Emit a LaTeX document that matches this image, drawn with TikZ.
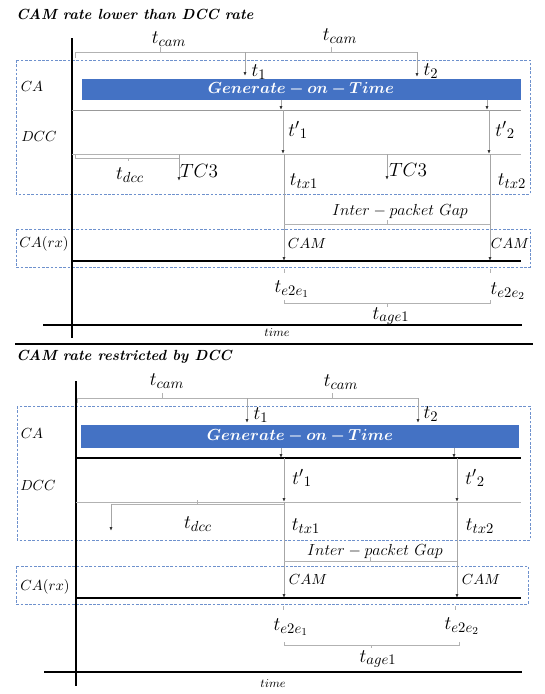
\documentclass[tikz,border=0pt]{standalone}
\usepackage{amsmath}
\usepackage{amssymb}
\usepackage{bm}
\usetikzlibrary{arrows.meta}

\DeclareMathSizes{14}{14}{10.5}{8}
\DeclareMathSizes{12.5}{12.5}{9.5}{7.5}

\definecolor{barblue}{RGB}{68,114,196}
\definecolor{laneblue}{RGB}{110,145,205}

\tikzset{
  axisline/.style={line width=1.3pt},
  lanebox/.style={draw=laneblue, line width=0.6pt, dash pattern=on 2pt off 1.2pt},
  tarrow/.style={draw=gray!70, line width=0.6pt, -{Latex[length=3pt,width=2.4pt,color=black!80]}},
  bracket/.style={draw=gray!60, line width=0.6pt},
  tlbl/.style={inner sep=0pt, font=\fontsize{14}{16}\selectfont},
  lanelbl/.style={inner sep=0pt, font=\fontsize{11}{13}\selectfont},
  notelbl/.style={inner sep=0pt, font=\fontsize{12.5}{14}\selectfont},
  timelbl/.style={inner sep=0pt, font=\fontsize{9.5}{11}\selectfont},
  titlelbl/.style={inner sep=0pt, anchor=west, font=\fontsize{11}{13}\selectfont\bfseries\itshape},
  genlbl/.style={inner sep=0pt, text=white, font=\fontsize{13}{15}\selectfont},
}

\begin{document}
\begin{tikzpicture}[x=0.75pt, y=-0.75pt]
  \useasboundingbox (0,0) rectangle (544,694);

  % upper panel
  \node[titlelbl] (title1) at (16,14) {CAM rate lower than DCC rate};
  \draw[lanebox] (16,60) rectangle (530,194);
  \draw[lanebox] (16,229) rectangle (530,267);
  \fill[barblue] (82,79) rectangle (521,100);
  \node[genlbl] (gen1) at (301,89.5) {$\bm{Generate-on-Time}$};
  \draw[axisline] (72,38) -- (72,338);
  \draw[axisline] (43,325) -- (522,325);
  \draw[axisline] (15,344) -- (533,344);
  \draw[gray!80, line width=0.7pt] (72,110) -- (521,110);
  \draw[gray!60, line width=0.7pt] (72,154) -- (521,154);
  \draw[line width=0.8pt] (72,261) -- (521,261);
  \node[lanelbl] (ca1) at (32,87) {$CA$};
  \node[lanelbl] (dcc1) at (39,137) {$DCC$};
  \node[lanelbl] (rx1) at (44,244) {$CA(rx)$};
  \node[timelbl] (time1) at (277,333) {$time$};

  \draw[bracket] (75,58) -- (75,52) -- (417,52);
  \draw[bracket] (160,52) -- (160,47);
  \draw[bracket] (331,52) -- (331,47);
  \draw[tarrow] (245,52) -- (245,76);
  \draw[tarrow] (417,52) -- (417,77);
  \node[tlbl] (cam1a) at (169,39) {$t_{cam}$};
  \node[tlbl] (cam1b) at (340,36) {$t_{cam}$};
  \node[tlbl] (t1a) at (259,72) {$t_1$};
  \node[tlbl] (t2a) at (431,71) {$t_2$};

  \draw[tarrow] (281,100) -- (281,110);
  \draw[tarrow] (487,100) -- (487,110);
  \draw[tarrow] (283,110) -- (283,154);
  \draw[tarrow] (489,110) -- (489,154);
  \node[tlbl] (tp1a) at (298,130) {${t'}_1$};
  \node[tlbl] (tp2a) at (505,130) {${t'}_2$};

  \draw[bracket] (75,154) -- (75,158) -- (179,158);
  \draw[bracket] (128,158) -- (128,161);
  \draw[tarrow] (179,154) -- (179,181);
  \draw[tarrow] (387,154) -- (387,180);
  \node[tlbl] (dcct1) at (130,175) {$t_{dcc}$};
  \node[tlbl] (tc3a) at (199,171) {$TC3$};
  \node[tlbl] (tc3b) at (408,170) {$TC3$};

  \draw[tarrow] (284,154) -- (284,261);
  \draw[tarrow] (490,154) -- (490,261);
  \node[tlbl] (tx1a) at (304,181) {$t_{tx1}$};
  \node[tlbl] (tx2a) at (512,181) {$t_{tx2}$};
  \draw[bracket] (284,224) -- (490,224);
  \draw[bracket] (387,224) -- (387,220);
  \node[notelbl] (gap1) at (400,211) {$Inter-packet\ Gap$};
  \node[lanelbl] (cam1c) at (307,244) {$CAM$};
  \node[lanelbl] (cam1d) at (510,244) {$CAM$};

  \draw[bracket] (284,269) -- (284,273);
  \draw[bracket] (490,269) -- (490,273);
  \node[tlbl] (e2e1a) at (292,289) {$t_{e2e_1}$};
  \node[tlbl] (e2e2a) at (508,291) {$t_{e2e_2}$};
  \draw[bracket] (284,300) -- (284,303) -- (490,303) -- (490,300);
  \draw[bracket] (387,303) -- (387,307);
  \node[tlbl] (age1) at (391,316) {$t_{age1}$};

  % lower panel
  \node[titlelbl] (title2) at (16,357) {CAM rate restricted by DCC};
  \draw[lanebox] (17,406) rectangle (530,540);
  \draw[lanebox] (16,566) rectangle (528,604);
  \fill[barblue] (81,425) rectangle (519,448);
  \node[genlbl] (gen2) at (300,436.5) {$\bm{Generate-on-Time}$};
  \draw[axisline] (76,381) -- (76,686);
  \draw[axisline] (44,672) -- (522,672);
  \draw[line width=0.8pt] (76,458) -- (521,458);
  \draw[gray!60, line width=0.7pt] (76,502) -- (521,502);
  \draw[line width=0.8pt] (76,598) -- (521,598);
  \node[lanelbl] (ca2) at (32,434) {$CA$};
  \node[lanelbl] (dcc2) at (38,486) {$DCC$};
  \node[lanelbl] (rx2) at (45,587) {$CA(rx)$};
  \node[timelbl] (time2) at (273,684) {$time$};

  \draw[bracket] (77,403) -- (77,398) -- (418,398);
  \draw[bracket] (162,398) -- (162,393);
  \draw[bracket] (332,398) -- (332,393);
  \draw[tarrow] (247,398) -- (247,423);
  \draw[tarrow] (418,398) -- (418,423);
  \node[tlbl] (cam2a) at (167,381) {$t_{cam}$};
  \node[tlbl] (cam2b) at (341,382) {$t_{cam}$};
  \node[tlbl] (t1b) at (261,415) {$t_1$};
  \node[tlbl] (t2b) at (431,414) {$t_2$};

  \draw[tarrow] (281,448) -- (281,458);
  \draw[tarrow] (454,448) -- (454,458);
  \draw[tarrow] (284,458) -- (284,502);
  \draw[tarrow] (457,458) -- (457,502);
  \node[tlbl] (tp1b) at (302,478) {${t'}_1$};
  \node[tlbl] (tp2b) at (475,478) {${t'}_2$};

  \draw[bracket] (284,504) -- (111,504);
  \draw[bracket] (197,504) -- (197,500);
  \draw[tarrow] (111,504) -- (111,531);
  \node[tlbl] (dcct2) at (198,524) {$t_{dcc}$};

  \draw[tarrow] (284,502) -- (284,598);
  \draw[tarrow] (457,502) -- (457,598);
  \node[tlbl] (tx1b) at (306,526) {$t_{tx1}$};
  \node[tlbl] (tx2b) at (480,526) {$t_{tx2}$};
  \draw[bracket] (284,561) -- (457,561);
  \draw[bracket] (370,561) -- (370,557);
  \node[notelbl] (gap2) at (375,551) {$Inter-packet\ Gap$};
  \node[lanelbl] (cam2c) at (308,580) {$CAM$};
  \node[lanelbl] (cam2d) at (481,580) {$CAM$};

  \draw[bracket] (283,606) -- (283,610);
  \draw[bracket] (455,606) -- (455,610);
  \node[tlbl] (e2e1b) at (291,627) {$t_{e2e_1}$};
  \node[tlbl] (e2e2b) at (462,626) {$t_{e2e_2}$};
  \draw[bracket] (284,642) -- (284,645) -- (459,645) -- (459,642);
  \draw[bracket] (371,645) -- (371,648);
  \node[tlbl] (age2) at (378,659) {$t_{age1}$};
\end{tikzpicture}
\end{document}
